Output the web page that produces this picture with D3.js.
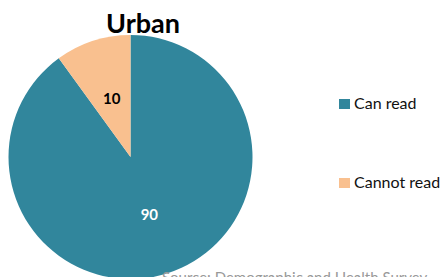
<!DOCTYPE html>
<html lang="en">
<head>
<meta charset="UTF-8"/>
<title>Urban literacy pie</title>
<script src="https://d3js.org/d3.v7.min.js"></script>
<style>
    body { margin: 0; background: white; }
    text { font-family: Lato, "Open Sans", sans-serif; }
</style>
</head>
<body>
<script>
    var w = 448;
    var h = 277;

    var categories = ["Can read", "Cannot read"];
    var values = [90, 10];
    var colours = ["#31869c", "#f9c08f"];
    var labelColours = ["white", "black"];

    var cx = 130.5, cy = 157, r = 122;

    var svg = d3.select("body").append("svg")
        .attr("width", w)
        .attr("height", h);

    var color = d3.scaleOrdinal().domain(categories).range(colours);

    var pie = d3.pie().sort(null).value(function(d){ return d.value; });
    var data = categories.map(function(c, i){ return {cat: c, value: values[i], lc: labelColours[i]}; });

    var arcs = pie(data);
    var arc = d3.arc().innerRadius(0).outerRadius(r);
    var labelArc = d3.arc().innerRadius(r * 0.5).outerRadius(r * 0.5);

    var g = svg.append("g").attr("transform", "translate(" + cx + "," + cy + ")");

    g.selectAll("path")
        .data(arcs)
        .enter()
        .append("path")
        .attr("d", arc)
        .attr("fill", function(d){ return color(d.data.cat); });

    g.selectAll("text.lbl")
        .data(arcs)
        .enter()
        .append("text")
        .attr("class", "lbl")
        .attr("x", function(d){ return labelArc.centroid(d)[0]; })
        .attr("y", function(d){ return labelArc.centroid(d)[1] + 5; })
        .attr("text-anchor", "middle")
        .attr("font-size", 15)
        .attr("font-weight", "bold")
        .attr("fill", function(d){ return d.data.lc; })
        .text(function(d){ return d.data.value; });

    svg.append("text")
        .attr("x", 143)
        .attr("y", 33)
        .attr("text-anchor", "middle")
        .attr("font-size", 27)
        .attr("font-weight", "bold")
        .attr("fill", "black")
        .text("Urban");

    // legend
    var legY = d3.scalePoint().domain(categories).range([103, 182]);
    var leg = svg.selectAll("g.leg")
        .data(categories)
        .enter()
        .append("g")
        .attr("class", "leg")
        .attr("transform", function(d){ return "translate(339," + legY(d) + ")"; });

    leg.append("rect")
        .attr("x", 0).attr("y", -4)
        .attr("width", 11).attr("height", 10)
        .attr("fill", function(d){ return color(d); });

    leg.append("text")
        .attr("x", 15).attr("y", 6)
        .attr("font-size", 16)
        .attr("fill", "#111")
        .text(function(d){ return d; });

    svg.append("text")
        .attr("x", 162)
        .attr("y", 283)
        .attr("font-size", 15)
        .attr("fill", "#999")
        .text("Source: Demographic and Health Survey");
</script>
</body>
</html>
